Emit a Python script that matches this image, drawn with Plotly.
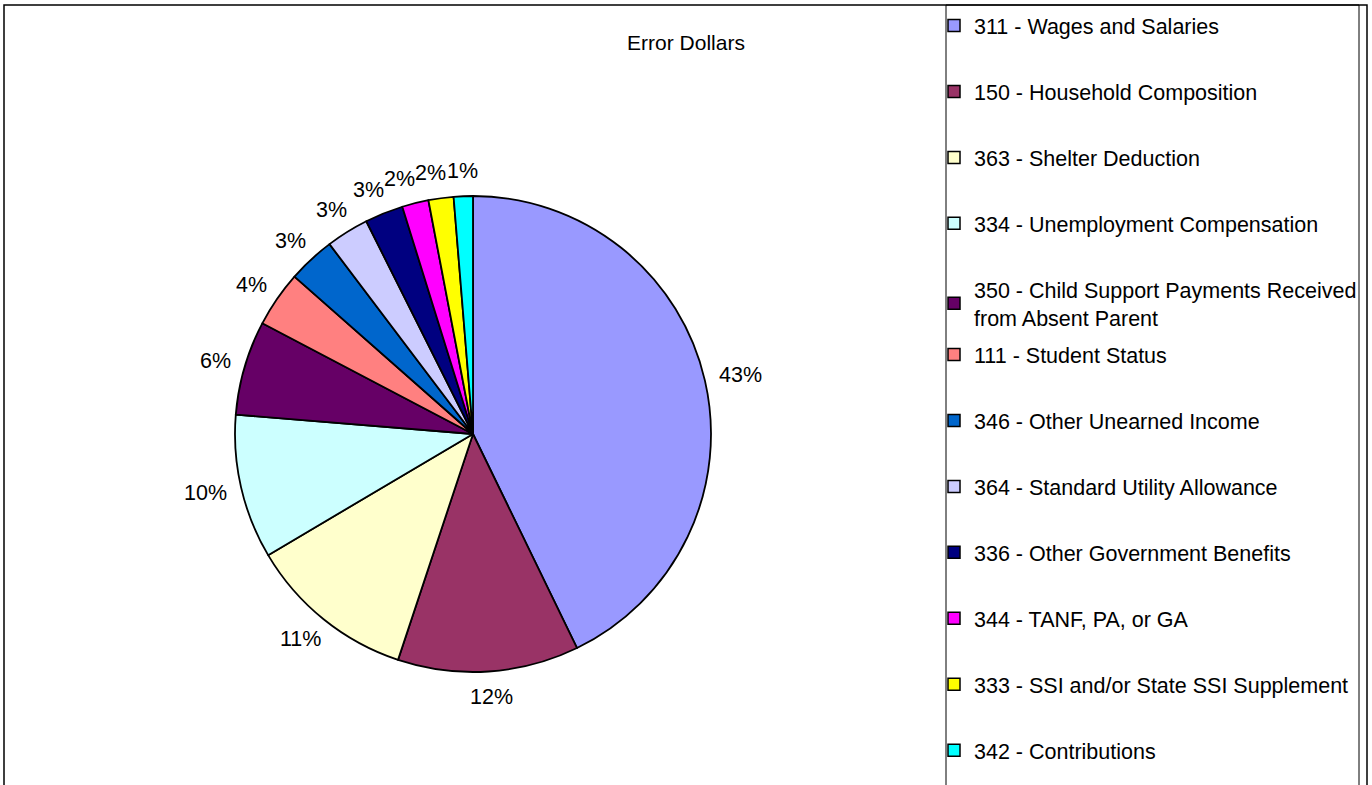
import math
import plotly.graph_objects as go

W, H = 1372, 785
FONT = "Liberation Sans, Arial, sans-serif"

categories = [
    "311 - Wages and Salaries",
    "150 - Household Composition",
    "363 - Shelter Deduction",
    "334 - Unemployment Compensation",
    "350 - Child Support Payments Received from Absent Parent",
    "111 - Student Status",
    "346 - Other Unearned Income",
    "364 - Standard Utility Allowance",
    "336 - Other Government Benefits",
    "344 - TANF, PA, or GA",
    "333 - SSI and/or State SSI Supplement",
    "342 - Contributions",
]
legend_labels = [
    "311 - Wages and Salaries",
    "150 - Household Composition",
    "363 - Shelter Deduction",
    "334 - Unemployment Compensation",
    "350 - Child Support Payments Received<br>from Absent Parent",
    "111 - Student Status",
    "346 - Other Unearned Income",
    "364 - Standard Utility Allowance",
    "336 - Other Government Benefits",
    "344 - TANF, PA, or GA",
    "333 - SSI and/or State SSI Supplement",
    "342 - Contributions",
]
shares = [42.8, 12.3, 11.4, 9.8, 6.4, 3.8, 3.2, 2.9, 2.6, 1.8, 1.7, 1.3]
colors = ["#9999FF", "#993366", "#FFFFCC", "#CCFFFF", "#660066", "#FF8080",
          "#0066CC", "#CCCCFF", "#000080", "#FF00FF", "#FFFF00", "#00FFFF"]

# pie geometry (pixels)
PIE_CX, PIE_CY, PIE_R = 473, 434, 238
LABEL_GAP = 15
LABEL_SIZE = 21.5


def px_x(p):
    return p / W


def px_y(p):
    return 1 - p / H


fig = go.Figure()
fig.add_trace(go.Pie(
    labels=categories, values=shares, sort=False, direction="clockwise",
    rotation=0,
    marker=dict(colors=colors, line=dict(color="black", width=1.8)),
    textinfo="none",
    showlegend=False,
    domain=dict(x=[px_x(PIE_CX - PIE_R), px_x(PIE_CX + PIE_R)],
                y=[px_y(PIE_CY + PIE_R), px_y(PIE_CY - PIE_R)]),
))

# percentage labels placed just outside each slice (derived from the data)
total = sum(shares)
boxes = []
cum = 0.0
for s in shares:
    mid = (cum + s / 2) / total * 2 * math.pi
    cum += s
    sn, cs = math.sin(mid), math.cos(mid)
    txt = f"{round(s / total * 100)}%"
    w = LABEL_SIZE * (0.556 * (len(txt) - 1) + 0.889)
    h = LABEL_SIZE * 0.95
    ax = PIE_CX + (PIE_R + LABEL_GAP) * sn
    ay = PIE_CY - (PIE_R + LABEL_GAP) * cs
    boxes.append(dict(txt=txt, cx=ax + sn * w / 2, cy=ay - cs * h / 2,
                      w=w, h=h, sn=sn))

# resolve collisions, starting from the slice nearest the top going back
placed = []
for b in reversed(boxes):
    for _ in range(20):
        moved = False
        for p in placed:
            ox = (b["w"] + p["w"]) / 2 - abs(b["cx"] - p["cx"])
            oy = (b["h"] + p["h"]) / 2 - abs(b["cy"] - p["cy"])
            if ox > 0 and oy > 0:
                b["cx"] += -ox if b["sn"] < 0 else ox
                moved = True
        if not moved:
            break
    placed.append(b)

annotations = [dict(
    x=px_x(b["cx"]), y=px_y(b["cy"]), xref="paper", yref="paper",
    text=b["txt"], showarrow=False, xanchor="center", yanchor="middle",
    font=dict(size=LABEL_SIZE, color="black", family=FONT),
) for b in boxes]

for i, (lab, col) in enumerate(zip(legend_labels, colors)):
    fig.add_trace(go.Scatter(
        x=[None], y=[None], mode="markers",
        marker=dict(symbol="square", size=12, color=col,
                    line=dict(color="black", width=1.5)),
        name=lab, legendgroup=f"g{i}",
        legend="legend" if i < 5 else "legend2",
        hoverinfo="skip",
    ))

legend_common = dict(
    xanchor="left", yanchor="top", tracegroupgap=35,
    font=dict(size=21.5, color="black", family=FONT),
    bgcolor="rgba(0,0,0,0)", borderwidth=0, itemwidth=30,
)

fig.update_layout(
    width=W, height=H,
    margin=dict(l=0, r=0, t=0, b=0),
    paper_bgcolor="white", plot_bgcolor="white",
    font=dict(family=FONT, color="black"),
    title=dict(text="Error Dollars", x=0.5, xanchor="center",
               y=px_y(43), yanchor="middle",
               font=dict(size=21, color="black", family=FONT)),
    xaxis=dict(visible=False),
    yaxis=dict(visible=False),
    legend=dict(x=px_x(934), y=px_y(5), **legend_common),
    legend2=dict(x=px_x(934), y=px_y(334), **legend_common),
    annotations=annotations,
    shapes=[
        dict(type="rect", xref="paper", yref="paper",
             x0=px_x(4), x1=px_x(1367), y0=px_y(800), y1=px_y(5),
             line=dict(color="black", width=1.5)),
        dict(type="rect", xref="paper", yref="paper",
             x0=px_x(946), x1=px_x(1359), y0=px_y(800), y1=px_y(5),
             line=dict(color="black", width=1)),
    ],
)

fig.write_html("out.html", config={"displayModeBar": False},
               post_script="document.body.style.margin='0';")
